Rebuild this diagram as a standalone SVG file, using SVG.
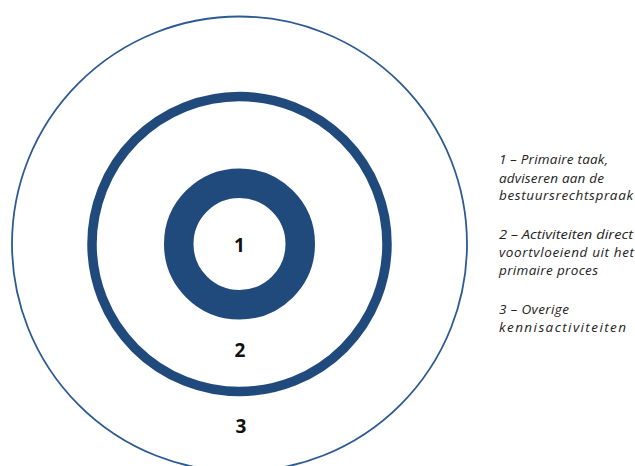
<svg xmlns="http://www.w3.org/2000/svg" width="635" height="466" viewBox="0 0 635 466">
  <style>
    .ring { fill: none; stroke: #214a7c; }
    .num { font-family: "Open Sans", "Liberation Sans", sans-serif; font-weight: bold; font-size: 19px; fill: #111; text-anchor: middle; }
    .legend { font-family: "Open Sans", "Liberation Sans", sans-serif; font-style: italic; font-size: 13.5px; fill: #222; }
  </style>
  <rect width="635" height="466" fill="#ffffff"/>
  <g id="ring-3">
    <circle class="ring" cx="239.5" cy="244" r="227.5" stroke-width="1.8" style="stroke:#2d5a92"/>
    <text class="num" x="241" y="433">3</text>
  </g>
  <g id="ring-2">
    <circle class="ring" cx="239.5" cy="244" r="147.5" stroke-width="9.5"/>
    <text class="num" x="240" y="357">2</text>
  </g>
  <g id="ring-1">
    <circle class="ring" cx="239.5" cy="244" r="60.75" stroke-width="29.5"/>
    <text class="num" x="239.5" y="252">1</text>
  </g>
  <!-- legend: one text per line, widths fixed so the block keeps its shape -->
  <g id="legend" class="legend">
    <text x="499" y="164" textLength="109" lengthAdjust="spacing">1 – Primaire taak,</text>
    <text x="499" y="182.5" textLength="105" lengthAdjust="spacing">adviseren aan de</text>
    <text x="499" y="200" textLength="134" lengthAdjust="spacing">bestuursrechtspraak</text>
    <text x="499" y="239" textLength="134" lengthAdjust="spacingAndGlyphs">2 – Activiteiten direct</text>
    <text x="499" y="257" textLength="135" lengthAdjust="spacing">voortvloeiend uit het</text>
    <text x="499" y="275" textLength="99" lengthAdjust="spacing">primaire proces</text>
    <text x="499" y="314" textLength="70" lengthAdjust="spacing">3 – Overige</text>
    <text x="499" y="332" textLength="127" lengthAdjust="spacing">kennisactiviteiten</text>
  </g>
</svg>
